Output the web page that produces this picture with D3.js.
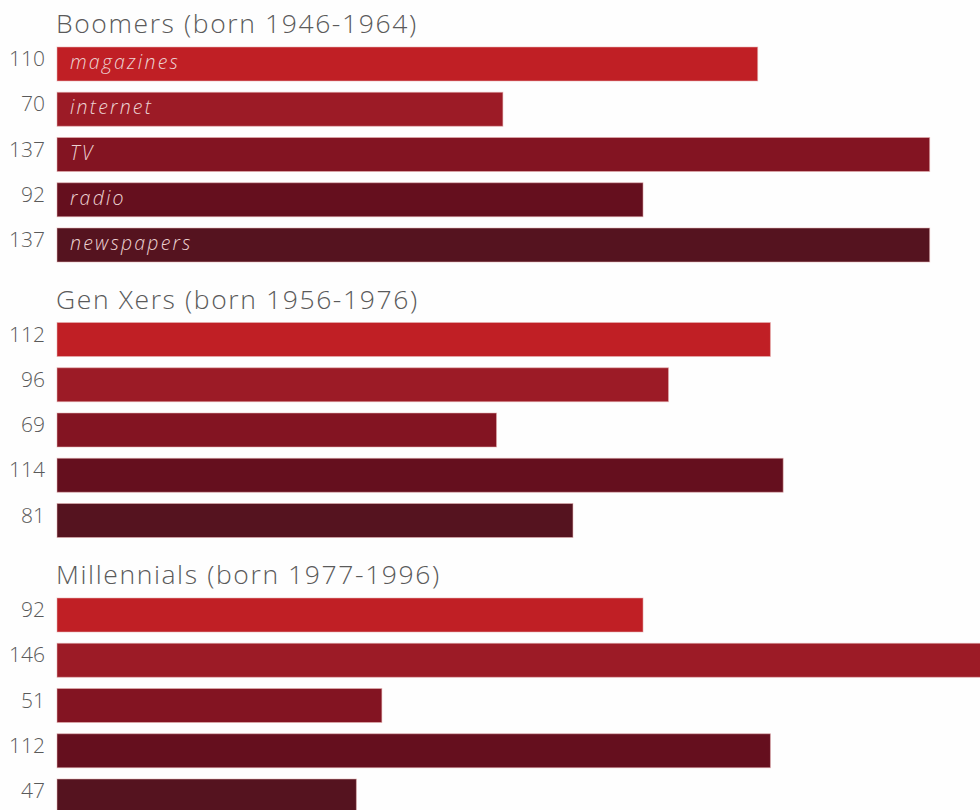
<!DOCTYPE html>
<html>
<head>
<meta charset="utf-8">
<script src="https://cdn.jsdelivr.net/npm/d3@7"></script>
<style>
  html, body { margin: 0; padding: 0; background: #fefefe; }
  svg { display: block; }
</style>
</head>
<body>
<svg id="chart" width="980" height="810"></svg>
<script>
// Media categories, in drawing order within each generation
const media = ["magazines", "internet", "TV", "radio", "newspapers"];
const mediaColors = ["#c01f25", "#9c1b26", "#831422", "#650f1e", "#55131f"];

// Generations and their index values per medium
const generations = ["Boomers (born 1946-1964)", "Gen Xers (born 1956-1976)", "Millennials (born 1977-1996)"];
const boomers = [110, 70, 137, 92, 137];
const genXers = [112, 96, 69, 114, 81];
const millennials = [92, 146, 51, 112, 47];
const seriesValues = [boomers, genXers, millennials];

const svg = d3.select("#chart");

const barLeft = 57;
const x = d3.scaleLinear().domain([0, 146]).range([barLeft, barLeft + 146 * 6.37]);

// Each group: a band scale for its five bars
const groupTop = d3.scaleLinear().domain([0, 1]).range([47, 322.5]);
const bandStep = 45.25;
const barH = 34;
const y = d3.scaleBand()
  .domain(media)
  .range([0, bandStep * (media.length - 1) + barH])
  .paddingInner((bandStep - barH) / bandStep)
  .paddingOuter(0)
  .align(0);

const color = d3.scaleOrdinal().domain(media).range(mediaColors);

const font = "'Open Sans', 'Noto Sans', sans-serif";

generations.forEach((gen, gi) => {
  const top = groupTop(gi);
  const g = svg.append("g").attr("transform", `translate(0,${top})`);

  g.append("text")
    .attr("x", barLeft - 1)
    .attr("y", -14)
    .attr("font-family", font)
    .attr("font-weight", 300)
    .attr("font-size", 26.5)
    .attr("letter-spacing", 1.6)
    .attr("fill", "#5a5a5a")
    .text(gen);

  const rows = media.map((m, i) => ({ medium: m, value: seriesValues[gi][i] }));

  g.selectAll("rect.bar")
    .data(rows)
    .join("rect")
    .attr("class", "bar")
    .attr("x", x(0))
    .attr("y", d => y(d.medium))
    .attr("width", d => x(d.value) - x(0))
    .attr("height", y.bandwidth())
    .attr("fill", d => color(d.medium))
    .attr("stroke", "#e7b4b4")
    .attr("stroke-opacity", 0.55)
    .attr("stroke-width", 1);

  // value labels to the left of the bars
  g.selectAll("text.value")
    .data(rows)
    .join("text")
    .attr("class", "value")
    .attr("x", 45)
    .attr("y", d => y(d.medium) + y.bandwidth() / 2 + 2)
    .attr("text-anchor", "end")
    .attr("font-family", font)
    .attr("font-weight", 300)
    .attr("font-size", 21)
    .attr("fill", "#5a5a5a")
    .text(d => d.value);

  // medium names written inside the first group's bars
  if (gi === 0) {
    g.selectAll("text.medium")
      .data(rows)
      .join("text")
      .attr("class", "medium")
      .attr("x", 70)
      .attr("y", d => y(d.medium) + y.bandwidth() / 2 + 5)
      .attr("font-family", font)
      .attr("font-style", "italic")
      .attr("font-weight", 300)
      .attr("font-size", 19.5)
      .attr("letter-spacing", 2.2)
      .attr("fill", "#ecd2d2")
      .text(d => d.medium);
  }
});
</script>
</body>
</html>
